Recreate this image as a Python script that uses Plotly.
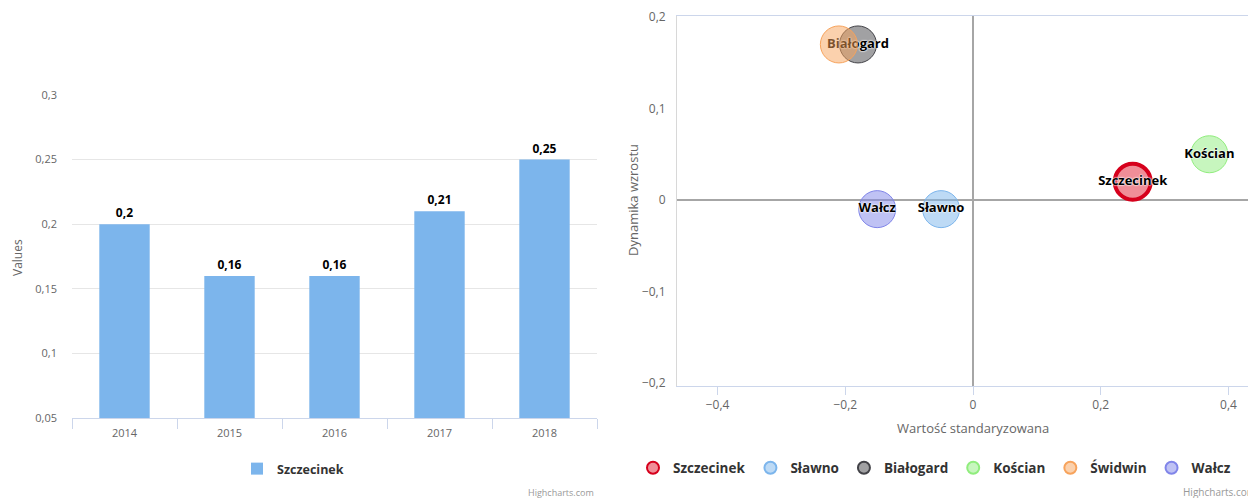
import plotly.graph_objects as go

# ---- data: left bar chart ----
years = ["2014", "2015", "2016", "2017", "2018"]
bar_values = [0.2, 0.16, 0.16, 0.21, 0.25]
bar_series = "Szczecinek"

# ---- data: right bubble chart ----
cities = ["Szczecinek", "Sławno", "Białogard", "Kościan", "Świdwin", "Wałcz"]
std_value = [0.25, -0.05, -0.18, 0.37, -0.21, -0.15]
growth = [0.02, -0.01, 0.17, 0.05, 0.17, -0.01]
show_label = [True, True, True, True, False, True]

left_ticks = [0.05, 0.1, 0.15, 0.2, 0.25, 0.3]
right_xticks = [-0.4, -0.2, 0, 0.2, 0.4]
right_yticks = [-0.2, -0.1, 0, 0.1, 0.2]

# ---- styles ----
FONT = "Open Sans"
fills = ["rgba(226,30,50,0.5)", "rgba(124,181,236,0.5)", "rgba(67,67,72,0.5)",
         "rgba(144,237,125,0.5)", "rgba(247,163,92,0.5)", "rgba(128,133,233,0.5)"]
borders = ["#d6001c", "#7cb5ec", "#434348", "#90ed7d", "#f7a35c", "#8085e9"]
border_w = [4, 1, 1, 1, 1, 1]
sizes = [36, 37, 37, 37, 37, 37]
OUTLINE = "0 0 2px #fff, 0 0 2px #fff, 0 0 1px #fff"

OFF = 8  # page body margin of the html page
W, H = 1256 - OFF, 498 - OFF

def px_x(p):
    return (p - OFF) / W

def px_y(p):
    return (H - (p - OFF)) / H

fig = go.Figure()

fig.add_trace(go.Bar(
    x=years, y=bar_values, name=bar_series,
    marker=dict(color="#7cb5ec", line=dict(width=0)),
    text=[str(v).replace(".", ",") for v in bar_values],
    textposition="outside", cliponaxis=False,
    textfont=dict(family=FONT, size=12, color="#000", weight="bold", shadow=OUTLINE),
    xaxis="x", yaxis="y", legend="legend", hoverinfo="skip",
))

for i, c in enumerate(cities):
    fig.add_trace(go.Scatter(
        x=[std_value[i]], y=[growth[i]], name=c,
        mode="markers+text" if show_label[i] else "markers",
        text=[c], textposition="middle center",
        textfont=dict(family=FONT, size=13, color="#000", weight="bold", shadow=OUTLINE),
        marker=dict(size=sizes[i], color=fills[i],
                    line=dict(color=borders[i], width=border_w[i])),
        xaxis="x2", yaxis="y2", legend="legend2", cliponaxis=False,
    ))

tickfont = dict(family=FONT, size=11, color="#666666")

def note(text, x, y, size, color="#666666", angle=0, xanchor="center"):
    return dict(text=text, x=px_x(x), y=px_y(y), xref="paper", yref="paper",
                xanchor=xanchor, yanchor="middle", showarrow=False, textangle=angle,
                font=dict(family=FONT, size=size, color=color))

fig.update_layout(
    width=W, height=H,
    margin=dict(l=0, r=0, t=0, b=0, autoexpand=False),
    paper_bgcolor="white", plot_bgcolor="white",
    separators=", ",
    font=dict(family=FONT, color="#333333"),
    bargap=0.52,
    xaxis=dict(
        domain=[px_x(72), px_x(597)], anchor="y",
        type="category", tickson="boundaries", ticks="outside", ticklen=10,
        tickcolor="#ccd6eb", showline=True, linecolor="#ccd6eb", linewidth=1,
        showgrid=False, tickfont=tickfont, ticklabelstandoff=5,
        fixedrange=True, automargin=False,
    ),
    yaxis=dict(
        domain=[px_y(418), px_y(95)], anchor="x",
        range=[0.05, 0.3], tickvals=left_ticks, showgrid=True, gridcolor="#e6e6e6",
        zeroline=False, showline=False, ticks="", tickfont=tickfont,
        ticklabelstandoff=14, fixedrange=True, automargin=False,
    ),
    xaxis2=dict(
        domain=[px_x(677), 1.0], anchor="y2",
        range=[-0.4634, 0.443], tickvals=right_xticks, ticks="outside", ticklen=8,
        tickcolor="#ccd6eb", showline=True, linecolor="#ccd6eb", linewidth=1,
        mirror=True, showgrid=False, zeroline=True, zerolinecolor="#a6a6a6",
        zerolinewidth=2, tickfont=dict(family=FONT, size=12, color="#666666"),
        fixedrange=True, automargin=False,
    ),
    yaxis2=dict(
        domain=[px_y(386), px_y(16)], anchor="x2",
        range=[-0.2033, 0.2011], tickvals=right_yticks, ticks="",
        showline=True, linecolor="#d8d8d8", linewidth=1, showgrid=False,
        zeroline=True, zerolinecolor="#a6a6a6", zerolinewidth=2,
        tickfont=dict(family=FONT, size=12, color="#666666"),
        ticklabelstandoff=8, fixedrange=True, automargin=False,
    ),
    legend=dict(
        orientation="h", x=px_x(237), y=px_y(469), xanchor="left", yanchor="middle",
        font=dict(family=FONT, size=12.5, color="#333333", weight="bold"),
        bgcolor="rgba(0,0,0,0)",
    ),
    legend2=dict(
        orientation="h", x=px_x(633), y=px_y(468), xanchor="left", yanchor="middle",
        font=dict(family=FONT, size=13.5, color="#333333", weight="bold"),
        itemsizing="constant", bgcolor="rgba(0,0,0,0)",
    ),
    annotations=[
        note("Values", 17, 258, 12, angle=-90),
        note("Dynamika wzrostu", 633, 200, 13, angle=-90),
        note("Wartość standaryzowana", 973, 428, 13),
        note("Highcharts.com", 596, 492, 9, color="#999999", xanchor="right"),
        note("Highcharts.com", 1258, 492, 10, color="#999999", xanchor="right"),
    ],
    showlegend=True,
)

fig.write_html("out.html")
